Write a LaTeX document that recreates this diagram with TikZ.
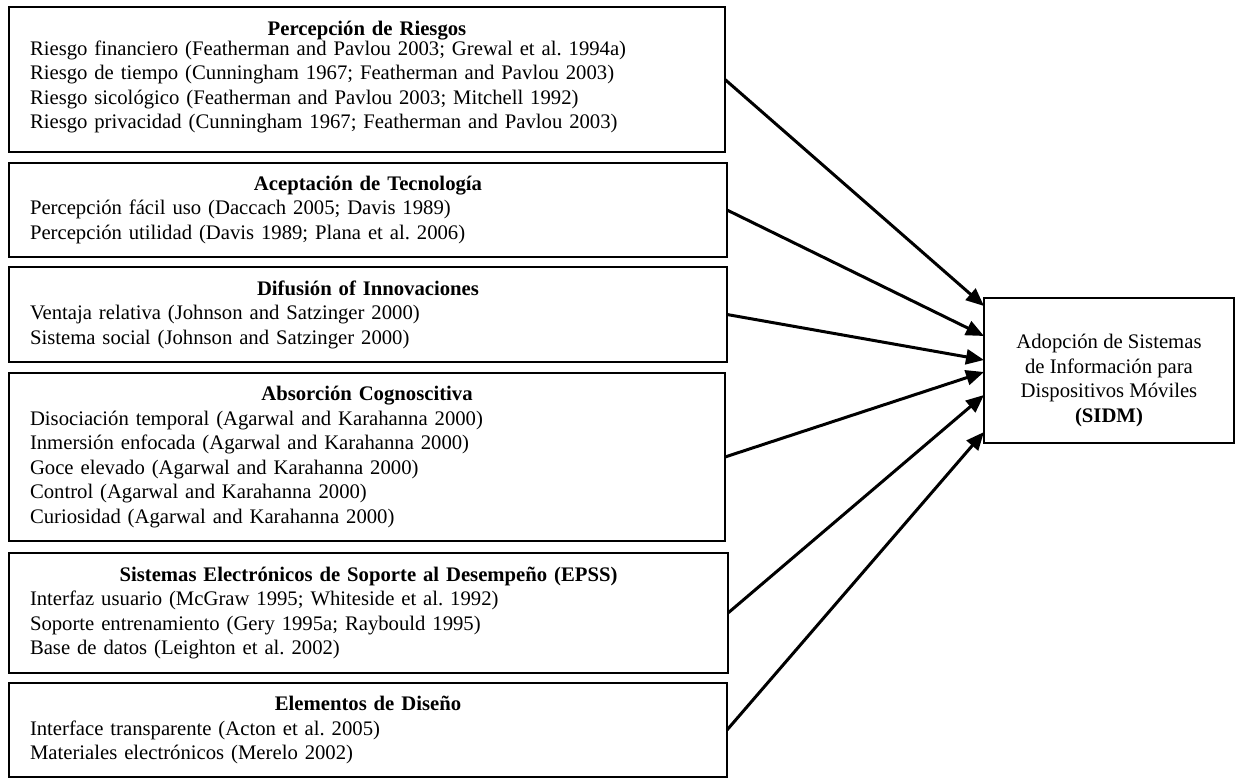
\documentclass[tikz,border=0pt]{standalone}
\usepackage{fontspec}
\setmainfont{Liberation Serif}
\frenchspacing
\usetikzlibrary{arrows.meta,calc,positioning}
\tikzset{>=stealth,
	factor/.style={% Boxes with the factors, title centred, items to the left
		draw, rectangle,
		line width=1.9pt,
		outer sep=0pt,
		inner xsep=21pt,
		inner ysep=0pt,
		anchor=north west,
		align=left,
		font=\fontsize{20.7}{24.5}\selectfont
	},
	influye/.style={
		-{Triangle[length=18pt,width=15pt]},
		line width=3pt
	}
}
\newcommand*{\titulo}[1]{\makebox[\hsize][c]{\bfseries #1}}

\begin{document}
\begin{tikzpicture}[x=1pt,y=-1pt]
		\useasboundingbox (0,0) rectangle (1236,778);
		
		\node (riesgos) [factor, text width=674pt, minimum height=145pt] at (9,7) {%
			\titulo{Percepción de Riesgos}\\[-5pt]
			Riesgo financiero (Featherman and Pavlou 2003; Grewal et al. 1994a)\\
			Riesgo de tiempo (Cunningham 1967; Featherman and Pavlou 2003)\\
			Riesgo sicológico (Featherman and Pavlou 2003; Mitchell 1992)\\
			Riesgo privacidad (Cunningham 1967; Featherman and Pavlou 2003)\rule[-9pt]{0pt}{0pt}};
		\node (tecnologia) [factor, below=11pt of riesgos.south west, anchor=north west,
		text width=676pt, minimum height=94pt] {%
			\titulo{Aceptación de Tecnología}\\
			Percepción fácil uso (Daccach 2005; Davis 1989)\\
			Percepción utilidad (Davis 1989; Plana et al. 2006)};
		\node (difusion) [factor, below=10pt of tecnologia.south west, anchor=north west,
		text width=676pt, minimum height=95pt] {%
			\titulo{Difusión of Innovaciones}\\
			Ventaja relativa (Johnson and Satzinger 2000)\\
			Sistema social (Johnson and Satzinger 2000)};
		\node (absorcion) [factor, below=11pt of difusion.south west, anchor=north west,
		text width=674pt, minimum height=168pt] {%
			\titulo{Absorción Cognoscitiva}\\
			Disociación temporal (Agarwal and Karahanna 2000)\\
			Inmersión enfocada (Agarwal and Karahanna 2000)\\
			Goce elevado (Agarwal and Karahanna 2000)\\
			Control (Agarwal and Karahanna 2000)\\
			Curiosidad (Agarwal and Karahanna 2000)};
		\node (epss) [factor, below=12pt of absorcion.south west, anchor=north west,
		text width=677pt, minimum height=120pt] {%
			\titulo{Sistemas Electrónicos de Soporte al Desempeño (EPSS)}\\
			Interfaz usuario (McGraw 1995; Whiteside et al. 1992)\\
			Soporte entrenamiento (Gery 1995a; Raybould 1995)\\
			Base de datos (Leighton et al. 2002)};
		\node (diseno) [factor, below=10pt of epss.south west, anchor=north west,
		text width=676pt, minimum height=94pt] {%
			\titulo{Elementos de Diseño}\\
			Interface transparente (Acton et al. 2005)\\
			Materiales electrónicos (Merelo 2002)};
		
		% Adoption box on the right
		\node (sidm) [draw, line width=1.9pt, outer sep=0pt, anchor=north west,
		minimum width=250pt, minimum height=145pt] at (984,298) {};
		\node (sidmtexto) [align=center, font=\fontsize{20.7}{24.5}\selectfont,
		yshift=-10pt] at (sidm.center)
		{Adopción de Sistemas\\de Información para\\Dispositivos Móviles\\\textbf{(SIDM)}};
		
		\foreach \caja/\desp in {riesgos/64.5, tecnologia/34.5, difusion/10.5,
			absorcion/-1.5, epss/-24.5, diseno/-61.5}
		\draw [influye] (\caja.east) -- ([yshift=\desp pt]sidm.west);
	\end{tikzpicture}
\end{document}
